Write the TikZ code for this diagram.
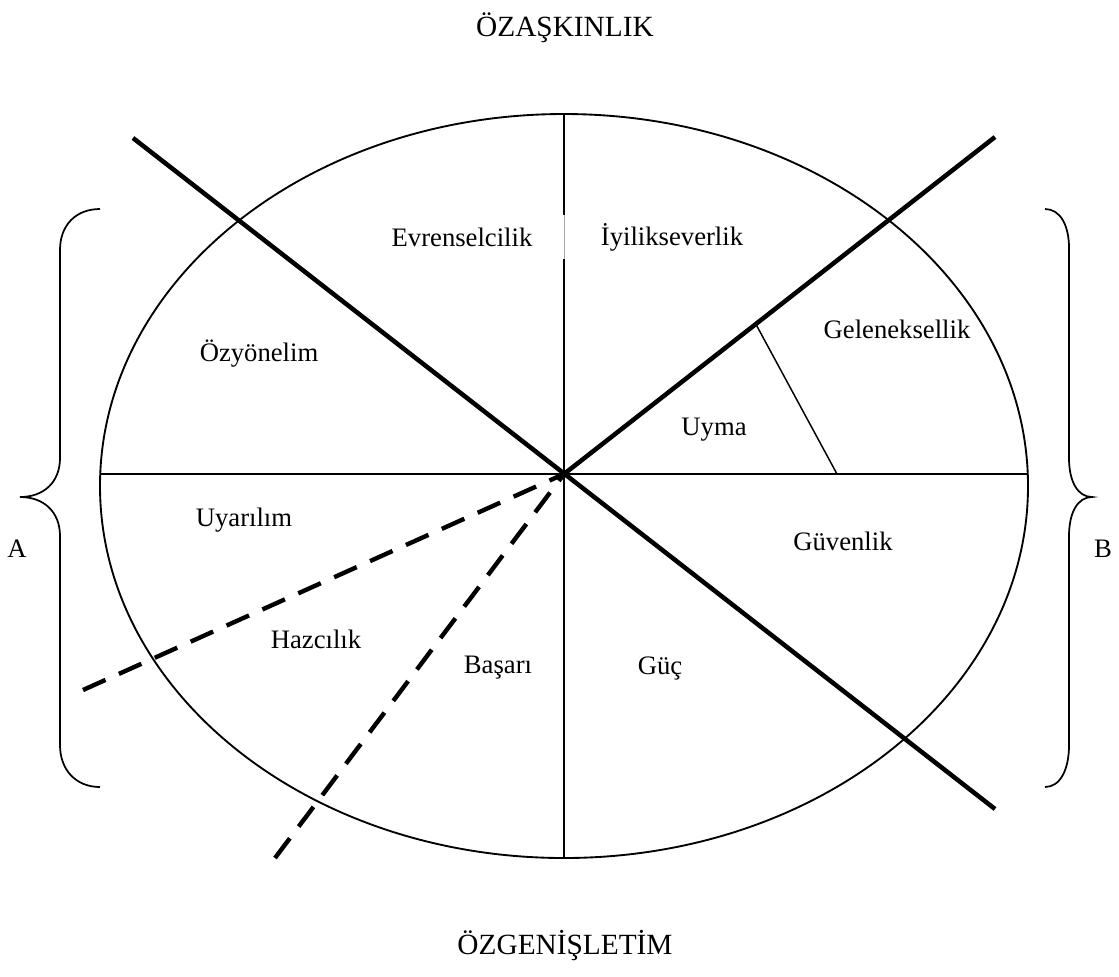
\documentclass[tikz,border=0pt]{standalone}
\usepackage{fontspec}
\setmainfont{Liberation Serif}
\usetikzlibrary{calc}
\begin{document}
\begin{tikzpicture}[x=0.75pt,y=-0.75pt,
  thinline/.style={line width=1.1pt},
  rim/.style={line width=1.4pt},
  axis/.style={line width=3.4pt},
  dashaxis/.style={line width=3.3pt, dash pattern=on 18.5pt off 11pt},
  lbl/.style={font=\fontsize{20}{23}\selectfont, inner sep=0pt},
  ttl/.style={font=\fontsize{22}{26}\selectfont, inner sep=0pt},
  bracepath/.style={line width=1.3pt}]
\useasboundingbox (0,0) rectangle (1119,976);
\coordinate (c) at (564,474);
\coordinate (el) at (564,486);
\draw[rim] (el) ellipse [x radius=348pt, y radius=279pt];
\coordinate (l) at (100.2,474);
\coordinate (r) at (1027.8,474);
\coordinate (t) at (564,114);
\coordinate (b) at (564,858);
\draw[thinline] (l) -- (r);
\coordinate (g1) at (564,215);
\coordinate (g2) at (564,259);
\draw[thinline] (t) -- (g1);
\draw[line width=0.5pt, gray!70] (g1) -- (g2);
\draw[thinline] (g2) -- (b);
\coordinate (ul) at (133,138);
\coordinate (lr) at (995,809);
\coordinate (ur) at (995,137);
\draw[axis] (ul) -- (lr);
\draw[axis] (c) -- (ur);
\coordinate (dl) at (83,690);
\coordinate (dd) at (275,858);
\draw[dashaxis] (dl) -- (c);
\draw[dashaxis] (dd) -- (c);
\coordinate (u1) at ($(c)!0.445!(ur)$);
\coordinate (u2) at (837,474);
\draw[thinline] (u1) -- (u2);
% braces
\draw[bracepath] (100,209) .. controls (76,209) and (60,225) .. (60,250) -- (60,458)
  .. controls (60,482) and (44,497) .. (20,497)
  .. controls (44,497) and (60,512) .. (60,536) -- (60,745)
  .. controls (60,770) and (76,787) .. (100,787);
\draw[bracepath] (1045,209) .. controls (1060,209) and (1069,225) .. (1069,248) -- (1069,458)
  .. controls (1069,482) and (1078,497) .. (1092,497)
  .. controls (1078,497) and (1069,512) .. (1069,536) -- (1069,745)
  .. controls (1069,770) and (1060,787) .. (1045,787);
% labels
\node[ttl] (top) at (565,28) {ÖZAŞKINLIK};
\node[ttl] (bot) at (565,945) {ÖZGENİŞLETİM};
\node[lbl] (ev) at (462,237) {Evrenselcilik};
\node[lbl] (iy) at (672,237) {İyilikseverlik};
\node[lbl] (oz) at (259,354) {Özyönelim};
\node[lbl] (ge) at (897,329) {Geleneksellik};
\node[lbl] (uy) at (714,430) {Uyma};
\node[lbl] (ua) at (244,520) {Uyarılım};
\node[lbl] (gu) at (843,541) {Güvenlik};
\node[lbl] (ha) at (316,639) {Hazcılık};
\node[lbl] (ba) at (498,668) {Başarı};
\node[lbl] (gc) at (660,668) {Güç};
\node[lbl] (A) at (17,549) {A};
\node[lbl] (B) at (1103,549) {B};
\end{tikzpicture}
\end{document}
